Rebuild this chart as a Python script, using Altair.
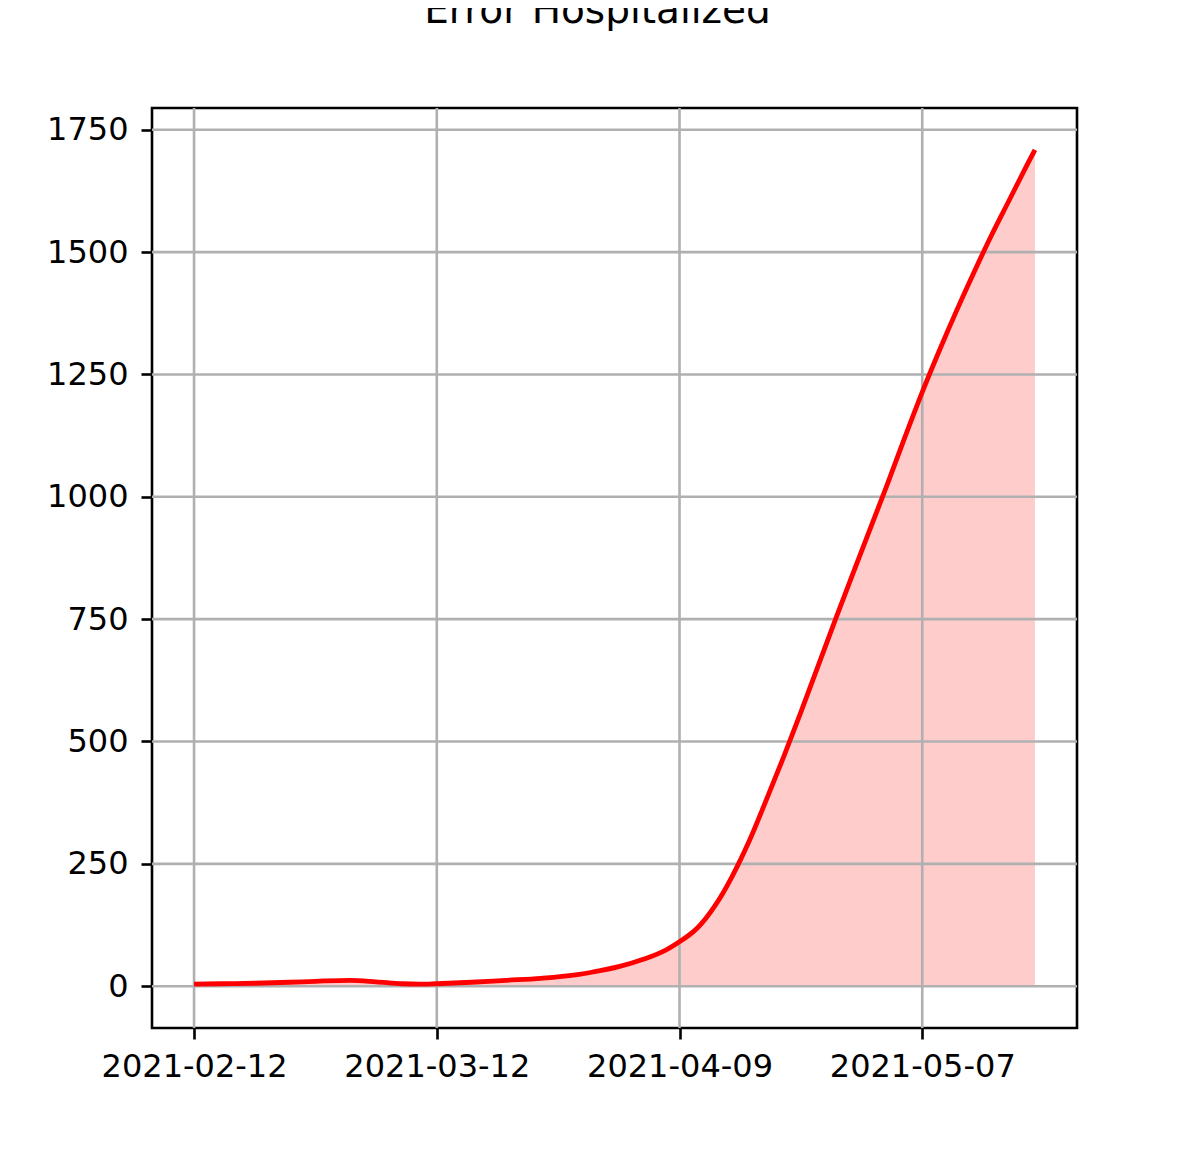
import altair as alt
import pandas as pd

dates = ["2021-02-12", "2021-02-15", "2021-02-19", "2021-02-23", "2021-02-26",
         "2021-03-02", "2021-03-05", "2021-03-08", "2021-03-10", "2021-03-12",
         "2021-03-16", "2021-03-20", "2021-03-24", "2021-03-28", "2021-03-30",
         "2021-04-02", "2021-04-05", "2021-04-07", "2021-04-09", "2021-04-10",
         "2021-04-11", "2021-04-12", "2021-04-13", "2021-04-14", "2021-04-15",
         "2021-04-16", "2021-04-17", "2021-04-19", "2021-04-21", "2021-04-23",
         "2021-04-25", "2021-04-27", "2021-04-29", "2021-05-01", "2021-05-03",
         "2021-05-05", "2021-05-07", "2021-05-09", "2021-05-11", "2021-05-13",
         "2021-05-15", "2021-05-17", "2021-05-19", "2021-05-20"]
values = [4, 5, 6, 8, 10,
          12, 9, 5, 4, 5,
          8, 12, 16, 23, 29,
          40, 56, 70, 91, 103,
          118, 138, 162, 190, 222,
          257, 295, 380, 468, 560,
          655, 750, 843, 935, 1027,
          1122, 1214, 1300, 1382, 1460,
          1535, 1605, 1675, 1709]

x_ticks = ["2021-02-12", "2021-03-12", "2021-04-09", "2021-05-07"]
y_ticks = [0, 250, 500, 750, 1000, 1250, 1500, 1750]

df = pd.DataFrame({"date": dates, "value": values})
xgrid = pd.DataFrame({"date": x_ticks})
ygrid = pd.DataFrame({"value": y_ticks})

xscale = alt.Scale(type="utc",
                   domain=[alt.DateTime(year=2021, month=2, date=7, hours=3, minutes=36, utc=True),
                           alt.DateTime(year=2021, month=5, date=24, hours=20, minutes=24, utc=True)])
yscale = alt.Scale(domain=[-85.45, 1794.45], nice=False, zero=False)

tick_dates = [alt.DateTime(year=2021, month=int(t[5:7]), date=int(t[8:10]), utc=True) for t in x_ticks]

xaxis = alt.Axis(values=tick_dates, labelExpr="utcFormat(datum.value, '%Y-%m-%d')",
                 title=None, grid=False, domain=False, tickColor="black", tickWidth=2.6,
                 tickSize=11, labelFont="DejaVu Sans", labelFontSize=32, labelColor="black",
                 labelPadding=12, labelFlush=False, labelOverlap=False, labelLimit=0)
yaxis = alt.Axis(values=y_ticks, format="d", title=None, grid=False, domain=False,
                 tickColor="black", tickWidth=2.6, tickSize=11, labelFont="DejaVu Sans",
                 labelFontSize=32, labelColor="black", labelPadding=13, labelFlush=False,
                 labelOverlap=False, labelLimit=0)

X = alt.X("date:T", scale=xscale, axis=xaxis)
Y = alt.Y("value:Q", scale=yscale, axis=yaxis)

area = alt.Chart(df).mark_area(color="#ff0000", opacity=0.2, interpolate="monotone").encode(x=X, y=Y)
vrules = alt.Chart(xgrid).mark_rule(color="#b0b0b0", strokeWidth=2.6).encode(x=X)
hrules = alt.Chart(ygrid).mark_rule(color="#b0b0b0", strokeWidth=2.6).encode(y=Y)
line = alt.Chart(df).mark_line(color="#ff0000", strokeWidth=4.8, interpolate="monotone").encode(x=X, y=Y)

chart = alt.layer(area, vrules, hrules, line).properties(
    width=925, height=920,
    title=alt.TitleParams("Error Hospitalized", font="DejaVu Sans", fontSize=39,
                          fontWeight="normal", color="black", anchor="middle",
                          baseline="alphabetic", offset=45, dx=-17),
    autosize=alt.AutoSizeParams(type="none"),
    padding={"left": 144, "top": 100, "right": 100, "bottom": 120},
).configure(background="white").configure_view(stroke="black", strokeWidth=2.6)

chart.save("out.html", embed_options={"renderer": "svg", "actions": False})
